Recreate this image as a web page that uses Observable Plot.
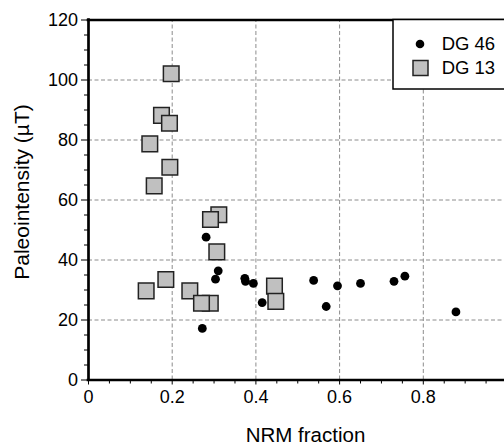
<!DOCTYPE html>
<html><head><meta charset="utf-8">
<script src="https://cdn.jsdelivr.net/npm/d3@7"></script>
<script src="https://cdn.jsdelivr.net/npm/@observablehq/plot@0.6"></script>
<style>html,body{margin:0;padding:0;background:#fff;overflow:hidden;} svg{display:block}</style>
</head><body><div id="chart"></div>
<script>
// Series DG 46 (black circles)
const dg46X = [0.281, 0.272, 0.3035, 0.310, 0.3735, 0.3751, 0.394, 0.415, 0.538, 0.568, 0.595, 0.650, 0.730, 0.756, 0.878];
const dg46Y = [47.6, 17.2, 33.6, 36.4, 33.9, 32.9, 32.2, 25.8, 33.2, 24.5, 31.4, 32.2, 32.9, 34.6, 22.7];
// Series DG 13 (grey squares)
const dg13X = [0.1976, 0.1744, 0.1935, 0.1465, 0.1944, 0.157, 0.3114, 0.2915, 0.3066, 0.1848, 0.1378, 0.2421, 0.291, 0.270, 0.4444, 0.4476];
const dg13Y = [102.1, 88.2, 85.6, 78.7, 70.9, 64.7, 55.1, 53.5, 42.7, 33.5, 29.7, 29.7, 25.6, 25.6, 31.3, 26.2];

const seriesNames = ["DG 46", "DG 13"];
const xLabel = "NRM fraction";
const yLabel = "Paleointensity (\u00b5T)";
const xTicks = [0, 0.2, 0.4, 0.6, 0.8];
const xMinor = [0.05, 0.1, 0.15, 0.25, 0.3, 0.35, 0.45, 0.5, 0.55, 0.65, 0.7, 0.75, 0.85, 0.9, 0.95];
const yTicks = [0, 20, 40, 60, 80, 100, 120];
const yMinor = [5, 10, 15, 25, 30, 35, 45, 50, 55, 65, 70, 75, 85, 90, 95, 105, 110, 115];
const xGrid = [0.2, 0.4, 0.6, 0.8];
const yGrid = [20, 40, 60, 80, 100];

const dg46 = dg46X.map((x, i) => ({x, y: dg46Y[i]}));
const dg13 = dg13X.map((x, i) => ({x, y: dg13Y[i]}));

const font = "'Liberation Sans', Arial, Helvetica, sans-serif";
const gridStyle = {stroke: "#8c8c8c", strokeWidth: 1, strokeDasharray: "4,2.5"};

const plot = Plot.plot({
  width: 504, height: 446,
  marginLeft: 88, marginRight: 0, marginTop: 19.5, marginBottom: 66.5,
  style: {fontFamily: font, fontSize: "18px", color: "#000", background: "#fff"},
  x: {domain: [0, 1], range: [88, 506.5]},
  y: {domain: [0, 120], range: [379.5, 19.5]},
  marks: [
    Plot.ruleX(xGrid, {y1: 0, y2: 120, ...gridStyle}),
    Plot.ruleY(yGrid, {x1: 0, x2: 1, ...gridStyle}),
    Plot.axisX(xMinor, {tickSize: 4, tickFormat: () => "", label: null}),
    Plot.axisX(xTicks, {tickSize: 5, tickPadding: 5.5, label: null, fontSize: 18, tickFormat: d => String(d)}),
    Plot.axisY(yMinor, {tickSize: 4, tickFormat: () => "", label: null}),
    Plot.axisY(yTicks, {tickSize: 7, tickPadding: 3.5, label: null, fontSize: 18}),
    Plot.dot(dg13, {x: "x", y: "y", symbol: "square", r: 8.8, fill: "#c0c0c0", stroke: "#222", strokeWidth: 1.5}),
    Plot.dot(dg46, {x: "x", y: "y", r: 4.4, fill: "#000", stroke: "none"}),
    Plot.ruleY([0, 120], {x1: 0, x2: 1, stroke: "#000", strokeWidth: 2.7, strokeLinecap: "square"}),
    Plot.ruleX([0], {y1: 0, y2: 120, stroke: "#000", strokeWidth: 2.7, strokeLinecap: "square"}),
    Plot.text([xLabel], {frameAnchor: "bottom", dx: 9, dy: 55, lineAnchor: "middle", fontSize: 20.5}),
    Plot.text([yLabel], {frameAnchor: "left", rotate: -90, textAnchor: "middle", lineAnchor: "middle", dx: -66, dy: -8, fontSize: 21})
  ]
});

// Legend box (top-right, partially cropped like the reference)
const svg = d3.select(plot);
const lg = svg.append("g").attr("font-family", font).attr("font-size", 18.5).attr("text-anchor", "start");
lg.append("rect").attr("x", 393).attr("y", 19.5).attr("width", 140).attr("height", 69.5)
  .attr("fill", "#fff").attr("stroke", "#000").attr("stroke-width", 1.5);
lg.append("circle").attr("cx", 420).attr("cy", 44).attr("r", 4.3).attr("fill", "#000");
lg.append("rect").attr("x", 413).attr("y", 60.5).attr("width", 15).attr("height", 15)
  .attr("fill", "#c0c0c0").attr("stroke", "#222").attr("stroke-width", 1.5);
lg.append("text").attr("x", 441.7).attr("y", 44).attr("dy", "0.35em").attr("text-anchor", "start").text(seriesNames[0]);
lg.append("text").attr("x", 441.7).attr("y", 68).attr("dy", "0.35em").attr("text-anchor", "start").text(seriesNames[1]);

document.getElementById("chart").appendChild(plot);
</script>
</body></html>
